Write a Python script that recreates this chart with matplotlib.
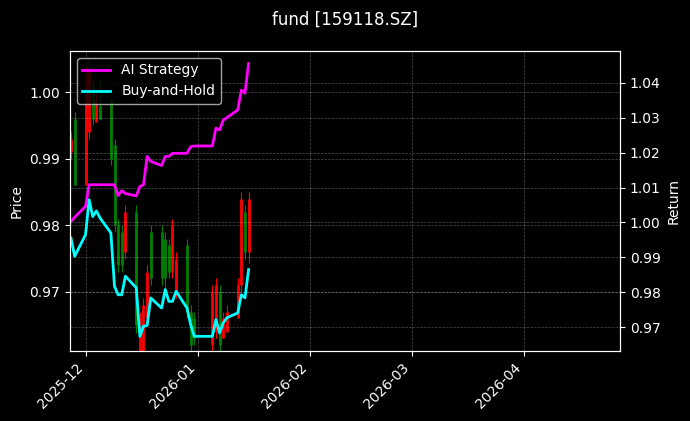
import matplotlib
matplotlib.use("Agg")
import matplotlib.pyplot as plt
import matplotlib.dates as mdates
import numpy as np
import pandas as pd

plt.style.use("dark_background")

dates = pd.to_datetime([
    "2025-11-27", "2025-11-28", "2025-12-01", "2025-12-02", "2025-12-03", "2025-12-04",
    "2025-12-05", "2025-12-08", "2025-12-09", "2025-12-10", "2025-12-11", "2025-12-12",
    "2025-12-15", "2025-12-16", "2025-12-17", "2025-12-18", "2025-12-19", "2025-12-22",
    "2025-12-23", "2025-12-24", "2025-12-25", "2025-12-26", "2025-12-29", "2025-12-30",
    "2025-12-31", "2026-01-05", "2026-01-06", "2026-01-07", "2026-01-08", "2026-01-09",
    "2026-01-12", "2026-01-13", "2026-01-14", "2026-01-15",
])

opens = [0.993, 0.986, 1.001, 1.003, 0.996, 0.999, 0.996, 0.990, 0.980, 0.974, 0.974, 0.982,
         0.965, 0.966, 0.968, 0.973, 0.972, 0.972, 0.972, 0.973, 0.980, 0.975, 0.967, 0.962,
         0.963, 0.970, 0.971, 0.962, 0.966, 0.967, 0.971, 0.984, 0.976, 0.984]
highs = [0.994, 0.997, 1.004, 1.005, 1.002, 1.000, 1.002, 0.999, 0.993, 0.981, 0.980, 0.983,
         0.983, 0.967, 0.969, 0.974, 0.980, 0.980, 0.979, 0.978, 0.981, 0.976, 0.978, 0.968,
         0.967, 0.971, 0.972, 0.971, 0.967, 0.968, 0.972, 0.985, 0.983, 0.985]
lows = [0.990, 0.986, 0.986, 0.993, 0.995, 0.9955, 0.996, 0.989, 0.979, 0.973, 0.973, 0.975,
        0.9638, 0.958, 0.958, 0.965, 0.971, 0.971, 0.970, 0.972, 0.972, 0.969, 0.966, 0.958,
        0.962, 0.958, 0.963, 0.958, 0.963, 0.964, 0.966, 0.970, 0.975, 0.9743]
closes = [0.991, 0.996, 0.986, 0.994, 1.001, 0.9955, 0.998, 0.999, 0.992, 0.980, 0.979, 0.976,
          0.982, 0.960, 0.961, 0.966, 0.979, 0.979, 0.978, 0.977, 0.973, 0.970, 0.977, 0.967,
          0.966, 0.962, 0.964, 0.970, 0.963, 0.964, 0.966, 0.971, 0.982, 0.976]

ai_return = [1.0003, 1.0015, 1.0046, 1.0108, 1.0108, 1.0108, 1.0108, 1.0108, 1.0108, 1.0077,
             1.0091, 1.0083, 1.0076, 1.0103, 1.0108, 1.0189, 1.0175, 1.0163, 1.0189, 1.0189,
             1.0198, 1.0198, 1.0198, 1.0217, 1.0219, 1.0219, 1.0270, 1.0265, 1.0293, 1.0300,
             1.0322, 1.0379, 1.0370, 1.0455]
bh_return = [0.9955, 0.9903, 0.9965, 1.0065, 1.0017, 1.0033, 1.0013, 0.9970, 0.9817, 0.9793,
             0.9793, 0.9846, 0.9813, 0.9674, 0.9703, 0.9705, 0.9784, 0.9755, 0.9808, 0.9774,
             0.9774, 0.9803, 0.9755, 0.9708, 0.9674, 0.9674, 0.9722, 0.9684, 0.9712, 0.9727,
             0.9741, 0.9793, 0.9784, 0.9865]

fig = plt.figure(figsize=(6.9, 4.21), dpi=100)
ax = fig.add_axes([0.1014, 0.1663, 0.7972, 0.7126])
fig.suptitle("fund [159118.SZ]", y=0.975, fontsize=12)

up = np.array(closes) >= np.array(opens)
colors = np.where(up, "green", "red")
ax.vlines(dates, lows, highs, colors=colors, lw=0.8)
ax.vlines(dates, opens, closes, colors=colors, lw=2.0)
ax.set_ylim(0.9611, 1.0062)
ax.set_ylabel("Price")
ax.grid(True, ls="--", lw=0.5, alpha=0.3)

ax2 = ax.twinx()
ax2.plot(dates, ai_return, color="magenta", lw=2, label="AI Strategy")
ax2.plot(dates, bh_return, color="cyan", lw=2, label="Buy-and-Hold")
ax2.set_ylim(0.9632, 1.0491)
ax2.set_ylabel("Return")
ax2.grid(True, ls="--", lw=0.5, alpha=0.3)
ax2.legend(loc="upper left")

ax.set_xlim(pd.Timestamp("2025-11-26 17:00"), pd.Timestamp("2026-04-27 12:00"))
ax.xaxis.set_major_locator(mdates.MonthLocator())
ax.xaxis.set_major_formatter(mdates.DateFormatter("%Y-%m"))
for lbl in ax.get_xticklabels():
    lbl.set_rotation(45)
    lbl.set_ha("right")

fig.savefig("out.png", dpi=100)
